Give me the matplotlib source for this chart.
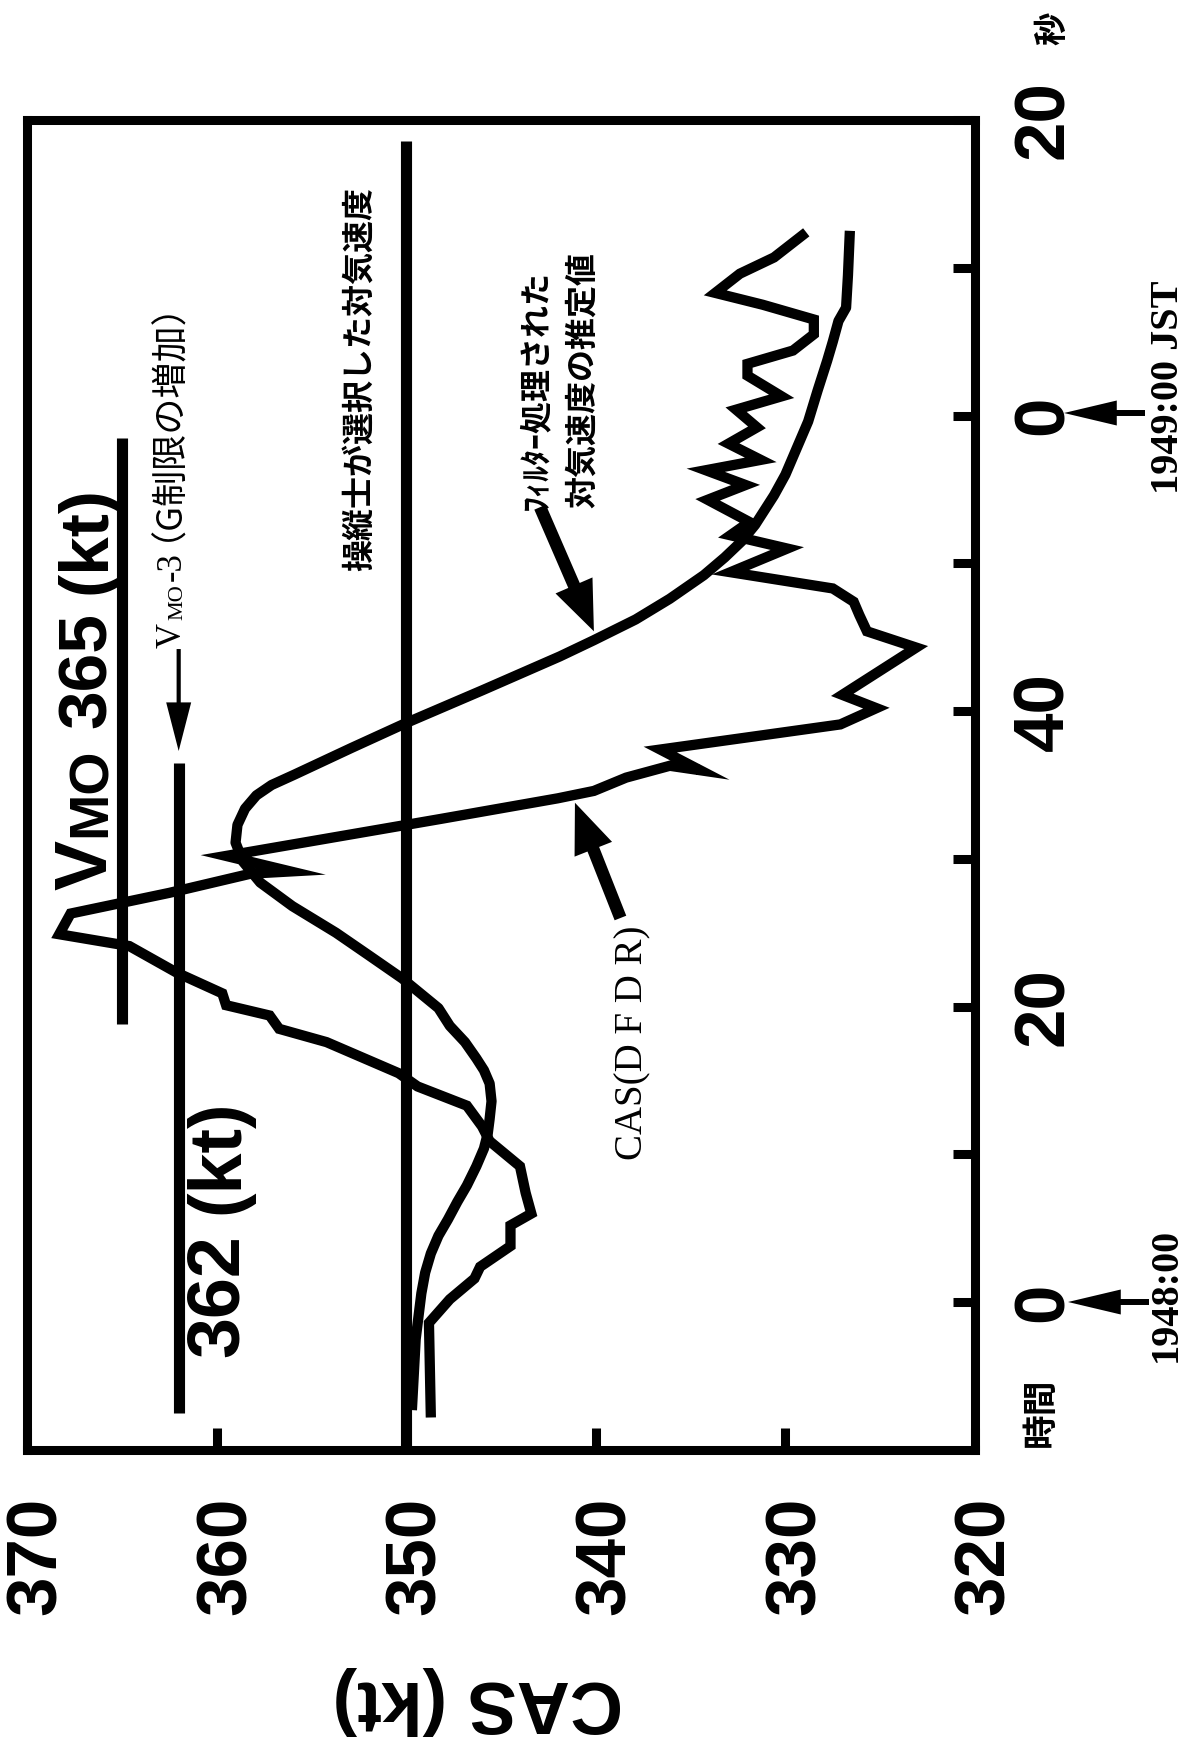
import matplotlib
matplotlib.use("Agg")
import matplotlib.pyplot as plt
from matplotlib.patches import FancyArrowPatch, ArrowStyle
from matplotlib.transforms import ScaledTranslation

W, H, DPI = 1198, 1743, 100

plt.rcParams["font.family"] = ["Liberation Sans", "Noto Sans CJK JP"]

# ---------------- data ----------------
# CAS recorded by the DFDR (time in s from 19:48:00, CAS in kt)
dfdr_time = [-7.8, -1.4, 0.2, 1.6, 2.4, 3.8, 5.2, 6.0, 7.4, 9.2, 10.9, 11.9, 13.3,
             14.6, 15.5, 17.6, 18.5, 19.4, 20.1, 20.9, 22.3, 24.1, 24.9, 26.3,
             27.7, 29.0, 29.15, 30.2, 32.7, 34.1, 34.6, 35.5, 36.3, 36.0, 37.4,
             39.1, 40.2, 41.1, 44.3, 45.4, 46.5, 47.4, 48.3, 49.4, 51.0, 51.9,
             52.8, 54.3, 55.3, 56.3, 57.0, 58.1, 59.2, 60.4, 61.3, 62.7, 63.5,
             64.4, 65.5, 66.5, 67.5, 68.3, 69.6, 70.7, 72.4]
dfdr_cas = [348.7, 348.8, 347.7, 346.4, 346.1, 344.5, 344.5, 343.4, 343.7, 344.0,
            345.6, 346.0, 346.8, 349.4, 350.4, 354.2, 356.7, 357.2, 359.5, 359.7,
            362.1, 364.6, 368.3, 367.7, 362.5, 358.2, 356.1, 359.5, 348.2, 342.0,
            340.1, 338.4, 336.1, 334.5, 336.6, 327.1, 325.2, 327.0, 323.1, 325.7,
            326.1, 326.4, 327.5, 332.9, 329.9, 332.9, 331.9, 334.1, 332.1, 334.2,
            331.3, 333.0, 331.5, 332.6, 330.2, 332.0, 332.0, 329.6, 328.5, 328.5,
            331.2, 333.7, 332.4, 330.6, 328.9]

# filtered airspeed estimate
filt_time = [-7.3, -2.5, 0.6, 2.0, 3.3, 4.5, 5.6, 6.8, 7.9, 9.2, 10.4, 11.4, 12.4,
             13.6, 14.8, 15.7, 16.5, 17.6, 18.7, 19.9, 21.9, 23.5, 25.0, 26.8,
             28.4, 29.8, 31.1, 32.3, 33.4, 34.3, 35.0, 35.7, 37.5, 39.2, 41.4,
             43.7, 44.8, 46.2, 47.6, 49.2, 50.4, 51.5, 52.6, 54.6, 56.0, 57.8,
             59.6, 61.7, 63.7, 65.0, 66.4, 67.3, 69.5, 72.5]
filt_cas = [349.7, 349.5, 349.2, 349.0, 348.7, 348.3, 347.8, 347.3, 346.8, 346.3,
            345.9, 345.7, 345.6, 345.5, 345.6, 345.9, 346.3, 346.9, 347.7, 348.3,
            350.2, 352.0, 353.7, 356.0, 357.7, 358.6, 359.0, 358.9, 358.5, 357.9,
            357.1, 355.9, 352.9, 350.0, 346.0, 341.9, 340.1, 337.9, 336.1, 334.3,
            333.2, 332.3, 331.6, 330.6, 330.0, 329.4, 328.8, 328.3, 327.8, 327.5,
            327.2, 326.8, 326.7, 326.6]

# reference speeds and the time span over which each is drawn
vmo_cas, vmo_span = 365, (18.8, 58.5)
vmo3_cas, vmo3_span = 362, (-7.5, 36.5)
sel_cas, sel_span = 350, (-10, 78.6)

cas_ticks = [370, 360, 350, 340, 330, 320]
cas_tick_labels = ["370", "360", "350", "340", "330", "320"]
time_ticks = [0, 20, 40, 60, 80]
time_tick_labels = ["0", "20", "40", "0", "20"]
time_minor_ticks = [10, 30, 50, 70]

# ---------------- figure ----------------
fig = plt.figure(figsize=(W / DPI, H / DPI), dpi=DPI)
fig.patch.set_facecolor("white")


def fpos(x, y):
    """image pixel (from top-left) -> figure fraction"""
    return x / W, 1 - y / H


def px_offset(dx, dy):
    """shift in pixels (dy positive = upwards)"""
    return ScaledTranslation(dx / DPI, dy / DPI, fig.dpi_scale_trans)


ax_l, ax_r, ax_t, ax_b = 27, 975, 120, 1450
ax = fig.add_axes([ax_l / W, 1 - ax_b / H, (ax_r - ax_l) / W, (ax_b - ax_t) / H])
ax.set_xlim(370, 320)
ax.set_ylim(-10, 80)

for sp in ax.spines.values():
    sp.set_linewidth(6.5)

LW_REF = 8.0
LW_CURVE = 7.4
ax.plot([vmo_cas, vmo_cas], vmo_span, color="black", lw=LW_REF, solid_capstyle="butt")
ax.plot([vmo3_cas, vmo3_cas], vmo3_span, color="black", lw=LW_REF, solid_capstyle="butt")
ax.plot([sel_cas, sel_cas], sel_span, color="black", lw=LW_REF, solid_capstyle="butt")

ax.plot(filt_cas, filt_time, color="black", lw=LW_CURVE,
        solid_joinstyle="round", solid_capstyle="butt")
ax.plot(dfdr_cas, dfdr_time, color="black", lw=LW_CURVE,
        solid_joinstyle="miter", solid_capstyle="butt")

# tick marks (inward); labels are written separately so they can read upward
ax.set_xticks(cas_ticks)
ax.yaxis.tick_right()
ax.set_yticks(time_ticks)
ax.set_yticks(time_minor_ticks, minor=True)
ax.tick_params(axis="x", which="major", direction="in", length=16, width=6.5,
               labelbottom=False)
ax.tick_params(axis="y", which="both", direction="in", length=16, width=6.5,
               left=False, right=True, labelleft=False, labelright=False)

TICK_FS = 51
for v, lab in zip(cas_ticks, cas_tick_labels):
    ax.text(v, 0, lab, transform=ax.get_xaxis_transform() + px_offset(29, -47),
            rotation=90, rotation_mode="anchor", ha="right", va="baseline",
            fontsize=TICK_FS, fontweight="bold", family="Liberation Sans")
for v, lab in zip(time_ticks, time_tick_labels):
    ax.text(1, v, lab, transform=ax.get_yaxis_transform() + px_offset(88, 0),
            rotation=90, rotation_mode="anchor", ha="center", va="baseline",
            fontsize=TICK_FS, fontweight="bold", family="Liberation Sans",
            clip_on=False)

renderer = fig.canvas.get_renderer()

SANS = ["Liberation Sans"]
SERIF = ["Liberation Serif"]
CJK = ["Noto Sans CJK JP"]


def text_run(y_start, pieces):
    """Write text pieces one after another, rotated to read bottom-to-top.
    y_start: starting y (px from top).
    pieces: (text, fontsize, family, weight, x px, vertical alignment, gap px).
    x is the baseline for va='baseline' and the glyph centre for va='center'."""
    y = H - y_start
    for s, size, fam, wt, x, va, gap in pieces:
        y += gap
        t = fig.text(x / W, y / H, s, rotation=90,
                     rotation_mode="anchor", ha="left", va=va,
                     fontsize=size, family=fam, fontweight=wt)
        bb = t.get_window_extent(renderer)
        y = bb.y1


text_run(890, [("V", 54, SANS, "bold", 106, "baseline", 0),
               ("MO", 40, SANS, "bold", 106, "baseline", 3),
               ("365", 50, SANS, "bold", 106, "baseline", 20),
               ("(kt)", 50, SANS, "bold", 106, "baseline", 18)])

text_run(1357, [("362", 53, SANS, "bold", 238, "baseline", 0),
                ("(kt)", 53, SANS, "bold", 238, "baseline", 20)])

# the full-width brackets shift this run's ink, hence the smaller anchor x
text_run(648, [("V", 25, SERIF, "normal", 181, "baseline", 0),
               ("MO", 16, SERIF, "normal", 182, "baseline", 3),
               ("-3", 25, SERIF, "normal", 181, "baseline", 3),
               ("（G制限の増加）", 26, CJK, "normal", 148, "center", 11)])

text_run(1160, [("CAS(D F D R)", 28, SERIF, "normal", 642, "baseline", 0)])

# vertical Japanese captions
text_run(571, [("操縦士が選択した対気速度", 23, CJK, "bold", 360, "center", 0)])
text_run(510, [("ﾌｨﾙﾀｰ処理された", 23, CJK, "bold", 536, "center", 0)])
text_run(508, [("対気速度の推定値", 23, CJK, "bold", 583, "center", 0)])

# axis captions
fig.text(*fpos(478, 1700), "CAS (kt)", rotation=180, ha="center", va="center",
         fontsize=53, family=SANS, fontweight="bold")
fig.text(*fpos(1040, 1412), "時間", rotation=90, ha="center", va="center",
         fontsize=25, family=CJK, fontweight="bold")
fig.text(*fpos(1053, 28), "秒", rotation=90, ha="center", va="center",
         fontsize=24, family=CJK, fontweight="bold")
fig.text(*fpos(1166, 1295), "1948:00", rotation=90, ha="center", va="center",
         fontsize=29, family=SERIF, fontweight="bold")
fig.text(*fpos(1168, 387), "1949:00 JST", rotation=90, ha="center", va="center",
         fontsize=29, family=SERIF, fontweight="bold")


def data_arrow(cas0, t0, cas1, t1, hl, hw, tw):
    a = FancyArrowPatch((cas0, t0), (cas1, t1),
                        arrowstyle=ArrowStyle.Simple(head_length=hl, head_width=hw, tail_width=tw),
                        mutation_scale=1, color="black", lw=0, shrinkA=0, shrinkB=0,
                        clip_on=False)
    ax.add_patch(a)


def fig_arrow(p0, p1, hl, hw, tw):
    a = FancyArrowPatch(fpos(*p0), fpos(*p1), transform=fig.transFigure,
                        arrowstyle=ArrowStyle.Simple(head_length=hl, head_width=hw, tail_width=tw),
                        mutation_scale=1, color="black", lw=0, shrinkA=0, shrinkB=0)
    fig.add_artist(a)


data_arrow(342.94, 53.8, 340.1, 45.4, 36, 29, 9)      # filtered estimate
data_arrow(338.7, 26.0, 341.1, 33.8, 36, 29, 9)       # CAS (DFDR)
data_arrow(vmo3_cas, 44.2, vmo3_cas, 37.3, 35, 18, 3)  # VMO-3

fig_arrow((1149, 1302), (1068, 1302), 38, 18, 4.3)
fig_arrow((1145, 413), (1064, 413), 38, 18, 4.3)

fig.savefig("out.png", dpi=DPI, facecolor="white")
